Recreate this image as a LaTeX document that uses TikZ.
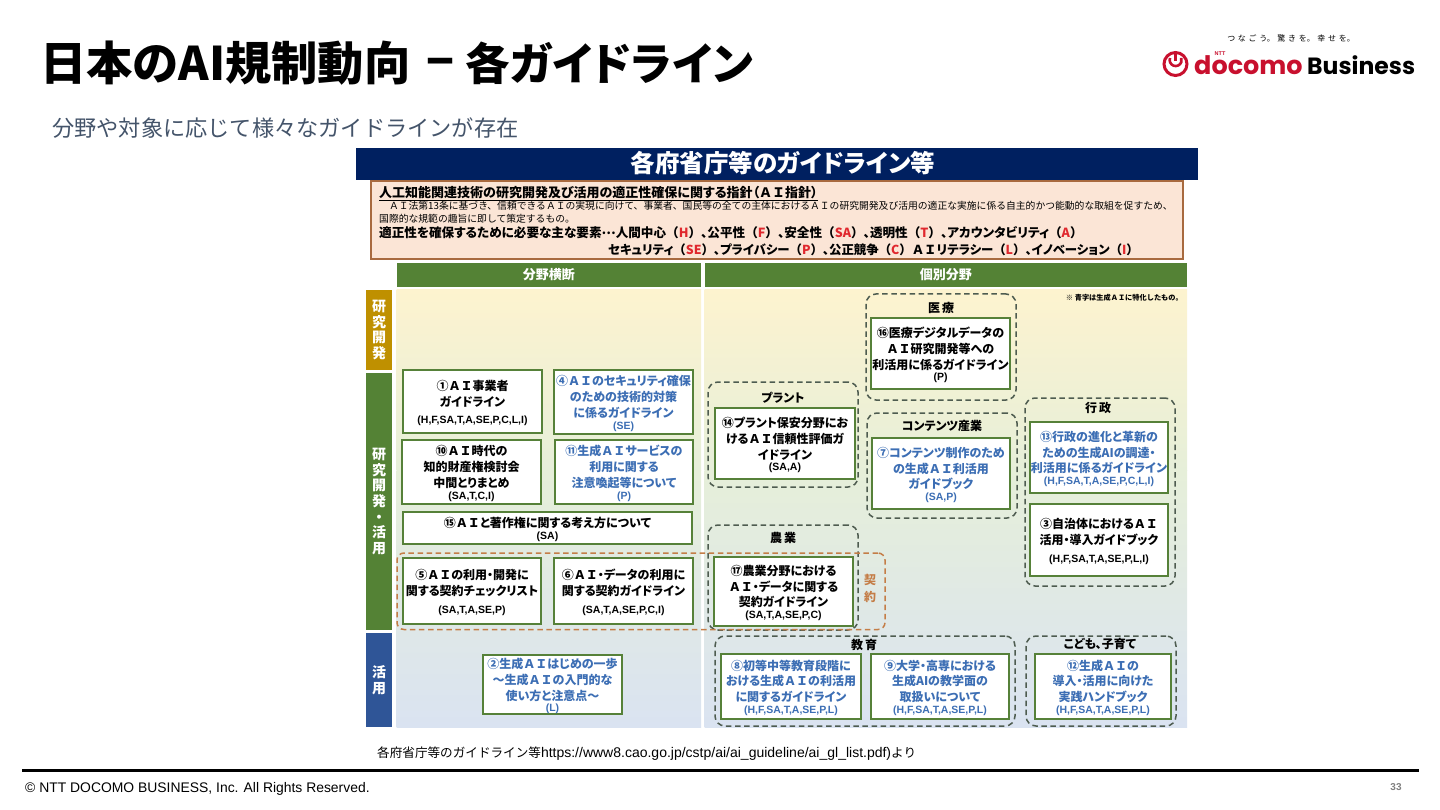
\documentclass[tikz,border=0pt]{standalone}
\usepackage{fontspec}
\setmainfont{Noto Sans CJK JP}[RawFeature=+palt]
\newfontfamily\npf{Noto Sans CJK JP}
\newfontfamily\arialf{Liberation Sans}
\newfontfamily\popf{Poppins}
\definecolor{navyb}{HTML}{002060}
\definecolor{hdgreen}{HTML}{548235}
\definecolor{boxgreen}{HTML}{568139}
\definecolor{aiblue}{HTML}{3C6EB4}
\definecolor{pinkf}{HTML}{FBE5D6}
\definecolor{pinkd}{HTML}{A86A3F}
\definecolor{dashg}{HTML}{4E5C50}
\definecolor{dasho}{HTML}{C47D47}
\definecolor{gold}{HTML}{BF9000}
\definecolor{sideblue}{HTML}{2F5597}
\definecolor{redl}{HTML}{E0282E}
\definecolor{subt}{HTML}{44546A}
\definecolor{dred}{HTML}{C8102E}
\definecolor{bgtop}{HTML}{FDF3CF}
\definecolor{bgmid}{HTML}{E6EFD9}
\definecolor{bgbot}{HTML}{DAE3F1}
\tikzset{
  gbox/.style={draw=boxgreen,fill=white,line width=2.4pt,inner sep=0pt,align=center,font=\fontsize{12}{15.8}\selectfont\bfseries},
  dbox/.style={draw=dashg,line width=1.5pt,dash pattern=on 5.5pt off 3.6pt,rounded corners=10pt,fill=none,inner sep=0pt},
  obox/.style={draw=dasho,line width=1.5pt,dash pattern=on 5.5pt off 3.6pt,rounded corners=7pt,fill=none,inner sep=0pt},
  grouplabel/.style={font=\fontsize{12}{14}\selectfont\bfseries,inner sep=0pt},
  sidetab/.style={inner sep=0pt,align=center,text=white,font=\fontsize{14}{15.6}\selectfont\bfseries},
  greenhead/.style={fill=hdgreen,inner sep=0pt,text=white,font=\fontsize{13}{15}\selectfont\bfseries},
  pline/.style={inner sep=0pt,anchor=base west},
}
\newcommand{\smt}[1]{{\arialf\fontsize{10.5}{15.8}\selectfont #1}}
\newcommand{\rk}[1]{{\npf （\textcolor{redl}{#1}）}}
\newcommand{\AI}{{\npf ＡＩ}}
\newcommand{\gb}[7]{%
  \pgfmathsetmacro\gw{#4-#2}\pgfmathsetmacro\gh{#5-#3}%
  \node[gbox,minimum width=\gw pt,minimum height=\gh pt] (#1) at ({(#2+#4)/2},{(#3+#5)/2}) {};
  \node[inner sep=0pt,align=center,text=#7,font=\fontsize{12}{15.8}\selectfont\bfseries] (#1t) at ({(#2+#4)/2},{(#3+#5)/2+1.5}) {#6};}
\newcommand{\db}[6]{%
  \pgfmathsetmacro\gw{#4-#2}\pgfmathsetmacro\gh{#5-#3}%
  \node[#6,minimum width=\gw pt,minimum height=\gh pt] (#1) at ({(#2+#4)/2},{(#3+#5)/2}) {};}
\begin{document}
\begin{tikzpicture}[x=1pt,y=-1pt]
\useasboundingbox (0,0) rectangle (1440,810);
% title
\node[anchor=west,inner sep=0pt,font=\fontsize{46.3}{50}\selectfont\bfseries] (title) at (40,63) {日本のAI規制動向};
\node[anchor=base,inner sep=0pt,font=\fontsize{46}{50}\selectfont\bfseries] (titled) at (441,79) {−};
\node[anchor=east,inner sep=0pt,font=\fontsize{44.5}{50}\selectfont\bfseries] (titler) at (753,63) {各ガイドライン};
\node[anchor=west,inner sep=0pt,text=subt,font=\npf\fontsize{22.2}{26}\selectfont] (subtitle) at (52,128.5) {分野や対象に応じて様々なガイドラインが存在};
% logo
\node[inner sep=0pt,font=\npf\fontsize{8}{10}\selectfont] (tagline) at (1291,38) {つ\,\,な\,\,ご\,\,う。\,\,驚\,\,き\,\,を。\,\,幸\,\,せ\,\,を。};
\node[circle,draw=dred,line width=3pt,minimum size=23pt,inner sep=0pt] (ring) at (1175.5,64) {};
\draw[dred,line width=2.6pt] (1170,58) arc[start angle=160,end angle=380,radius=6pt];
\draw[dred,line width=2.6pt] (1175.5,54) -- (1175.5,61);
\node[anchor=base west,inner sep=0pt,text=dred,font=\popf\fontsize{25.5}{28}\selectfont\bfseries] (docomo) at (1194,75) {docomo};
\node[anchor=base west,inner sep=0pt,font=\popf\fontsize{23.5}{28}\selectfont\bfseries] (biz) at (1307,75) {Business};
\node[inner sep=0pt,text=dred,font=\arialf\fontsize{5.5}{6}\selectfont\bfseries] (ntt) at (1220,54) {NTT};
% header
\node[fill=navyb,minimum width=842pt,minimum height=32pt,inner sep=0pt] (hdr) at (777,164) {};
\node[text=white,inner sep=0pt,font=\fontsize{24.5}{28}\selectfont\bfseries] (hdrt) at (783,163.5) {各府省庁等のガイドライン等};
% pink box
\node[fill=pinkf,draw=pinkd,line width=1.4pt,minimum width=812pt,minimum height=78pt,inner sep=0pt] (pink) at (777,220) {};
\node[pline,font=\fontsize{13}{15}\selectfont\bfseries] (p1) at (379,198) {人工知能関連技術の研究開発及び活用の適正性確保に関する指針（\AI 指針）};
\draw[black,line width=0.8pt] ([yshift=-2pt]p1.base west) -- ([yshift=-2pt]p1.base east);
\node[pline,font=\npf\fontsize{9.8}{12}\selectfont] (p2) at (379,210) {　ＡＩ法第13条に基づき、信頼できるＡＩの実現に向けて、事業者、国民等の全ての主体におけるＡＩの研究開発及び活用の適正な実施に係る自主的かつ能動的な取組を促すため、};
\node[pline,font=\npf\fontsize{9.8}{12}\selectfont] (p3) at (379,223) {国際的な規範の趣旨に即して策定するもの。};
\node[pline,font=\fontsize{12.6}{15}\selectfont\bfseries] (p4) at (379,238) {適正性を確保するために必要な主な要素\raisebox{3.5pt}{\npf …}人間中心\rk{H}、公平性\rk{F}、安全性\rk{SA}、透明性\rk{T}、アカウンタビリティ\rk{A}};
\node[pline,font=\fontsize{12.4}{15}\selectfont\bfseries] (p5) at (608,254.5) {セキュリティ\rk{SE}、プライバシー\rk{P}、公正競争\rk{C}\AI リテラシー\rk{L}、イノベーション\rk{I}};
% column headers
\node[greenhead,minimum width=304.5pt,minimum height=24pt] (hl) at (548.75,275) {分野横断};
\node[greenhead,minimum width=482.5pt,minimum height=24pt] (hr) at (945.75,275) {個別分野};
% backgrounds
\path[top color=bgmid,bottom color=bgbot,draw=none] (396.5,470) rectangle (701,727);
\path[top color=bgmid,bottom color=bgbot,draw=none] (704.5,470) rectangle (1187,727);
\path[top color=bgtop,bottom color=bgmid,draw=none] (396.5,290) rectangle (701,470.5);
\path[top color=bgtop,bottom color=bgmid,draw=none] (704.5,290) rectangle (1187,470.5);
% side tabs
\node[sidetab,fill=gold,minimum width=26pt,minimum height=80pt] (t1) at (379,330) {研\\究\\開\\発};
\node[sidetab,fill=hdgreen,minimum width=26pt,minimum height=257pt] (t2) at (379,501.5) {研\\究\\開\\発\\・\\活\\用};
\node[sidetab,fill=sideblue,minimum width=26pt,minimum height=94pt] (t3) at (379,680) {活\\用};
% note
\node[anchor=east,inner sep=0pt,font=\npf\fontsize{7.2}{8}\selectfont\bfseries] (note) at (1183,298) {※\ 青字は生成ＡＩに特化したもの。};
% dashed groups
\db{gmed}{866}{294}{1016}{400}{dbox}
\db{gplant}{708}{382}{858}{487}{dbox}
\db{gcont}{867}{413}{1017}{518}{dbox}
\db{ggov}{1025}{398}{1175}{586}{dbox}
\db{gagri}{708}{525}{858}{630}{dbox}
\db{gedu}{715}{636}{1015}{726}{dbox}
\db{gkids}{1026}{636}{1176}{726}{dbox}
\node[grouplabel] (lmed) at (941,308) {医\,療};
\node[grouplabel] (lplant) at (783,398) {プラント};
\node[grouplabel] (lcont) at (942,426) {コンテンツ産業};
\node[grouplabel] (lgov) at (1098,408) {行\,政};
\node[grouplabel] (lagri) at (783,538) {農\,業};
\node[grouplabel] (ledu) at (864,645) {教\,育};
\node[grouplabel] (lkids) at (1100,644) {こども、子育て};
% boxes
\gb{b1}{403}{370}{542}{433}{①\AI 事業者\\ガイドライン\\[2pt]\smt{(H,F,SA,T,A,SE,P,C,L,I)}}{black}
\gb{b4}{554}{370}{693}{434}{④\AI のセキュリティ確保\\のための技術的対策\\に係るガイドライン\\[-4pt]\smt{(SE)}}{aiblue}
\gb{b10}{402}{440}{541}{504}{⑩\AI 時代の\\知的財産権検討会\\中間とりまとめ\\[-4pt]\smt{(SA,T,C,I)}}{black}
\gb{b11}{555}{440}{693}{504}{⑪生成\AI サービスの\\利用に関する\\注意喚起等について\\[-4pt]\smt{(P)}}{aiblue}
\gb{b15}{403}{512}{692}{544}{⑮\AI と著作権に関する考え方について\\[-4pt]\smt{(SA)}}{black}
\gb{b5}{403}{558}{541}{624}{⑤\AI の利用・開発に\\関する契約チェックリスト\\[2pt]\smt{(SA,T,A,SE,P)}}{black}
\gb{b6}{554}{558}{693}{624}{⑥\AI ・データの利用に\\関する契約ガイドライン\\[2pt]\smt{(SA,T,A,SE,P,C,I)}}{black}
\gb{b2}{483}{655}{622}{714}{②生成\AI はじめの一歩\\～生成\AI の入門的な\\使い方と注意点～\\[-4pt]\smt{(L)}}{aiblue}
\gb{b16}{871}{318}{1010}{389}{⑯医療デジタルデータの\\\AI 研究開発等への\\利活用に係るガイドライン\\[-4pt]\smt{(P)}}{black}
\gb{b14}{715}{408}{855}{479}{⑭プラント保安分野にお\\ける\AI 信頼性評価ガ\\イドライン\\[-4pt]\smt{(SA,A)}}{black}
\gb{b7}{872}{438}{1010}{509}{⑦コンテンツ制作のため\\の生成\AI 利活用\\ガイドブック\\[-4pt]\smt{(SA,P)}}{aiblue}
\gb{b13}{1030}{422}{1168}{493}{⑬行政の進化と革新の\\ための生成AIの調達・\\利活用に係るガイドライン\\[-4pt]\smt{(H,F,SA,T,A,SE,P,C,L,I)}}{aiblue}
\gb{b3}{1030}{504}{1168}{576}{③自治体における\AI \\活用・導入ガイドブック\\[2pt]\smt{(H,F,SA,T,A,SE,P,L,I)}}{black}
\gb{b17}{714}{557}{853}{626}{⑰農業分野における\\\AI ・データに関する\\契約ガイドライン\\[-4pt]\smt{(SA,T,A,SE,P,C)}}{black}
\gb{b8}{721}{654}{861}{719}{⑧初等中等教育段階に\\[-0.7pt]おける生成\AI の利活用\\[-0.7pt]に関するガイドライン\\[-3.5pt]\smt{(H,F,SA,T,A,SE,P,L)}}{aiblue}
\gb{b9}{871}{654}{1009}{719}{⑨大学・高専における\\[-0.7pt]生成AIの教学面の\\[-0.7pt]取扱いについて\\[-3.5pt]\smt{(H,F,SA,T,A,SE,P,L)}}{aiblue}
\gb{b12}{1035}{654}{1171}{719}{⑫生成\AI の\\[-0.7pt]導入・活用に向けた\\[-0.7pt]実践ハンドブック\\[-3.5pt]\smt{(H,F,SA,T,A,SE,P,L)}}{aiblue}
% contract group
\db{gctr}{397}{553}{885}{629.5}{obox}
\node[inner sep=0pt,align=center,text=dasho,font=\fontsize{12}{17}\selectfont\bfseries] (lctr) at (870,588) {契\\約};
% source and footer
\node[anchor=west,inner sep=0pt,font=\npf\fontsize{12.6}{14}\selectfont] (src) at (377,754) {各府省庁等のガイドライン等{\arialf\fontsize{14}{14}\selectfont https://www8.cao.go.jp/cstp/ai/ai\_guideline/ai\_gl\_list.pdf)}より};
\coordinate (fl) at (22,770.5);
\coordinate (fr) at (1419,770.5);
\draw[black,line width=3.5pt] (fl) -- (fr);
\node[anchor=west,inner sep=0pt,font=\arialf\fontsize{13.9}{14}\selectfont] (copy) at (25,789) {© NTT DOCOMO BUSINESS, Inc. All Rights Reserved.};
\node[inner sep=0pt,text=gray,font=\arialf\fontsize{10}{12}\selectfont\bfseries] (pg) at (1396,787) {33};
\end{tikzpicture}
\end{document}
